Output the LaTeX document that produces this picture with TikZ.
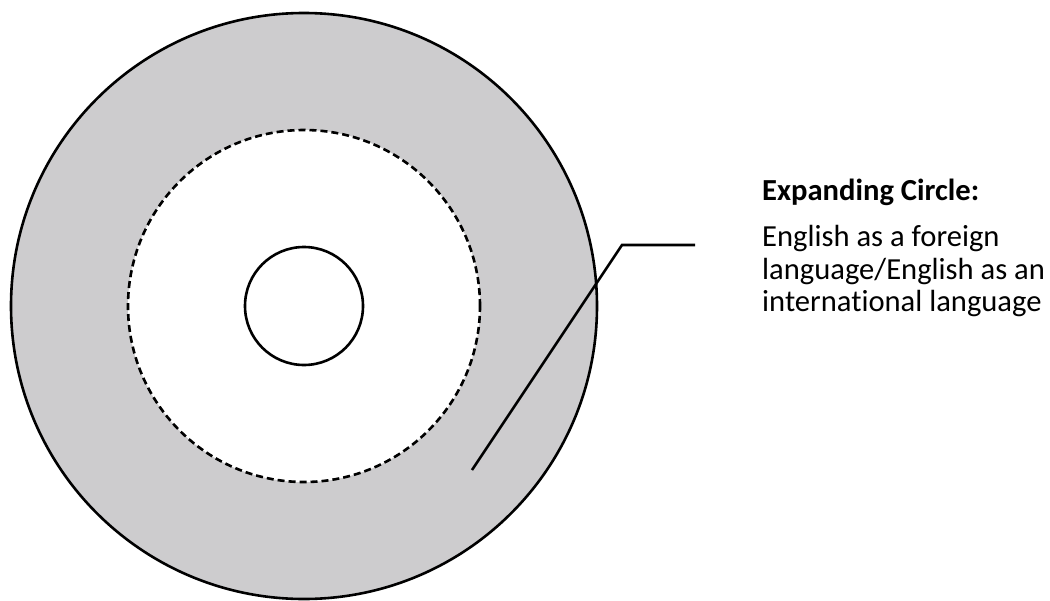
\documentclass[tikz,border=0pt]{standalone}
\usepackage{fontspec}
\setmainfont{Carlito}[Ligatures=NoCommon]
\usetikzlibrary{positioning}
\definecolor{ringgray}{RGB}{205,204,206}

\begin{document}
\begin{tikzpicture}[
  x=1pt, y=-1pt,
  ring/.style={circle, draw, line width=2.6pt, inner sep=0pt},
  leader/.style={line width=2.6pt},
  label text/.style={inner sep=0pt, anchor=base west,
    font=\fontsize{30.6}{32.5}\selectfont}
]
  \useasboundingbox (0,0) rectangle (1050,600);

  % Three circles on one centre: shaded outer ring, dashed middle, small core.
  \node[ring, fill=ringgray, minimum size=586pt] (outer) at (304,306) {};
  \node[ring, fill=white, dash pattern=on 7pt off 4pt, minimum size=352pt] (middle) at (outer.center) {};
  \node[ring, minimum size=118pt] (inner) at (outer.center) {};

  % Label on the right, one node per printed line.
  \node[label text, font=\fontsize{30.6}{32.5}\selectfont\bfseries] (title) at (762,200) {Expanding Circle:};
  \node[label text, below=46.5pt of title.base west, anchor=base west] (desc1) {English as a foreign};
  \node[label text, below=32.5pt of desc1.base west, anchor=base west] (desc2) {language/English as an};
  \node[label text, below=32.5pt of desc2.base west, anchor=base west] (desc3) {international language};

  % Leader line from the ring towards the label.
  \coordinate (tip) at (472,470);
  \coordinate (bend) at (622,245);
  \coordinate (stub) at (695,245);
  \draw[leader] (tip) -- (bend) -- (stub);
\end{tikzpicture}
\end{document}
